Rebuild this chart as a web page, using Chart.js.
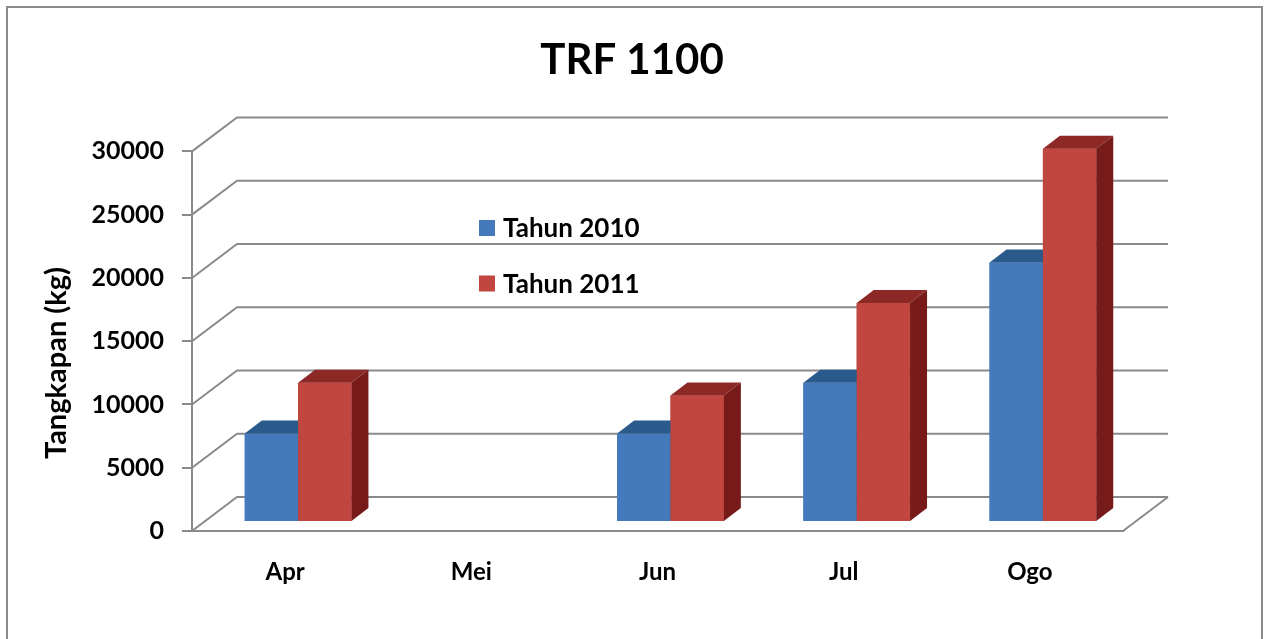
<!DOCTYPE html>
<html>
<head>
<meta charset="utf-8">
<title>TRF 1100</title>
<script src="https://cdn.jsdelivr.net/npm/chart.js@4.4.1/dist/chart.umd.min.js"></script>
<style>
  html, body { margin: 0; padding: 0; background: #fff; overflow: hidden; }
  #wrap { position: relative; width: 1264px; height: 639px; }
  #frame { position: absolute; left: 6px; top: 6px; width: 1257px; height: 700px; border: 2px solid #8c8c8c; box-sizing: border-box; }
  canvas { position: absolute; left: 0; top: 0; }
</style>
</head>
<body>
<div id="wrap">
  <div id="frame"></div>
  <canvas id="trfChart" width="1264" height="639"></canvas>
</div>
<script>
// Data hasil tangkapan TRF 1100 (kg)
const bulan = ['Apr', 'Mei', 'Jun', 'Jul', 'Ogo'];
const tahun2010 = [7000, null, 7000, 11000, 20500];
const tahun2011 = [11000, null, 10000, 17300, 29500];
const nilaiSumbuY = [0, 5000, 10000, 15000, 20000, 25000, 30000];

// Warna muka batang (depan, atas, samping)
const warnaBiru = { depan: '#4479bb', atas: '#2a5a8c', samping: '#1f4670' };
const warnaMerah = { depan: '#c0463f', atas: '#8c2826', samping: '#771a1a' };
const warnaGrid = '#8a8a8a';

// Pergeseran semu 3D (piksel)
const dinding = { dx: 45, dy: -34 };
const geserBatang = { dx: 13, dy: -9 };
const tebalBatang = { dx: 17, dy: -13 };

Chart.defaults.font.family = 'Lato, "Open Sans", sans-serif';
Chart.defaults.color = '#000';

// Gambar dinding belakang, lantai, dan sisi batang
const efek3D = {
    id: 'efek3D',
    beforeDatasetsDraw(chart) {
        const { ctx, chartArea: a, scales: { y } } = chart;
        ctx.save();
        ctx.strokeStyle = warnaGrid;
        ctx.lineWidth = 2;
        y.ticks.forEach(t => {
            const py = y.getPixelForValue(t.value);
            ctx.beginPath();
            ctx.moveTo(a.left, py);
            ctx.lineTo(a.left + dinding.dx, py + dinding.dy);
            ctx.lineTo(a.right + dinding.dx, py + dinding.dy);
            ctx.stroke();
        });
        // tepi kanan lantai
        ctx.beginPath();
        ctx.moveTo(a.right, a.bottom);
        ctx.lineTo(a.right + dinding.dx, a.bottom + dinding.dy);
        ctx.stroke();
        ctx.restore();

        // batang digeser sedikit ke dalam lantai
        ctx.save();
        ctx.translate(geserBatang.dx, geserBatang.dy);
    },
    afterDatasetsDraw(chart) {
        // Chart.js menggambar dataset terakhir lebih dulu; di sini batang digambar
        // ulang berurutan supaya muka depan merah menutupi sisi batang biru.
        const ctx = chart.ctx;
        chart.data.datasets.forEach((ds, di) => {
            const meta = chart.getDatasetMeta(di);
            meta.data.forEach((bar, i) => {
                if (ds.data[i] == null) return;
                bar.draw(ctx);
                const { x, y, base, width } = bar.getProps(['x', 'y', 'base', 'width'], true);
                const kiri = x - width / 2;
                const kanan = x + width / 2;

                ctx.fillStyle = ds.warna3D.atas;
                ctx.beginPath();
                ctx.moveTo(kiri, y);
                ctx.lineTo(kiri + tebalBatang.dx, y + tebalBatang.dy);
                ctx.lineTo(kanan + tebalBatang.dx, y + tebalBatang.dy);
                ctx.lineTo(kanan, y);
                ctx.closePath();
                ctx.fill();

                ctx.fillStyle = ds.warna3D.samping;
                ctx.beginPath();
                ctx.moveTo(kanan, y);
                ctx.lineTo(kanan + tebalBatang.dx, y + tebalBatang.dy);
                ctx.lineTo(kanan + tebalBatang.dx, base + tebalBatang.dy);
                ctx.lineTo(kanan, base);
                ctx.closePath();
                ctx.fill();
            });
        });
        ctx.restore();
    }
};

// Legenda di dalam area plot + judul sumbu Y
const legendaDalam = {
    id: 'legendaDalam',
    afterDraw(chart, args, opts) {
        const ctx = chart.ctx;
        ctx.save();
        ctx.font = 'bold 26px ' + Chart.defaults.font.family;
        ctx.textBaseline = 'middle';
        chart.data.datasets.forEach((ds, i) => {
            const cy = opts.y + i * opts.jarak;
            ctx.fillStyle = ds.backgroundColor;
            ctx.fillRect(opts.x, cy - 8, 16, 16);
            ctx.fillStyle = '#000';
            ctx.fillText(ds.label, opts.x + 24, cy + 1);
        });

        ctx.font = 'bold 29px ' + Chart.defaults.font.family;
        ctx.translate(opts.judulY.x, opts.judulY.y);
        ctx.rotate(-Math.PI / 2);
        ctx.textAlign = 'center';
        ctx.fillText(opts.judulY.teks, 0, 0);
        ctx.restore();
    }
};

const ctx = document.getElementById('trfChart').getContext('2d');
new Chart(ctx, {
    type: 'bar',
    data: {
        labels: bulan,
        datasets: [
            {
                label: 'Tahun 2010',
                data: tahun2010,
                backgroundColor: warnaBiru.depan,
                warna3D: warnaBiru,
                categoryPercentage: 0.573,
                barPercentage: 1.0,
                clip: false
            },
            {
                label: 'Tahun 2011',
                data: tahun2011,
                backgroundColor: warnaMerah.depan,
                warna3D: warnaMerah,
                categoryPercentage: 0.573,
                barPercentage: 1.0,
                clip: false
            }
        ]
    },
    options: {
        responsive: false,
        animation: false,
        layout: { padding: { top: 0, left: 0, right: 0, bottom: 0 } },
        scales: {
            x: {
                grid: { display: false, drawTicks: false },
                border: { display: true, color: warnaGrid, width: 2 },
                ticks: { font: { size: 24, weight: 'bold' }, padding: 27 },
                afterFit: s => { s.height = 108; }
            },
            y: {
                min: nilaiSumbuY[0],
                max: nilaiSumbuY[nilaiSumbuY.length - 1],
                afterBuildTicks: s => { s.ticks = nilaiSumbuY.map(v => ({ value: v })); },
                grid: { drawOnChartArea: false, drawTicks: true, tickLength: 10, color: warnaGrid, lineWidth: 2 },
                border: { display: true, color: warnaGrid, width: 2 },
                ticks: { font: { size: 25, weight: 'bold' }, padding: 18, callback: v => String(v) },
                afterFit: s => { s.width = 192; }
            },
            // sumbu kosong di kanan untuk menyisakan ruang dinding 3D
            kosong: {
                position: 'right',
                display: true,
                grid: { display: false, drawTicks: false },
                border: { display: false },
                ticks: { display: false },
                afterFit: s => { s.width = 141; }
            }
        },
        plugins: {
            title: {
                display: true,
                text: 'TRF 1100',
                font: { size: 42, weight: 'bold' },
                padding: { top: 35, bottom: 66 }
            },
            legend: { display: false },
            tooltip: { enabled: false },
            legendaDalam: {
                x: 479,
                y: 228,
                jarak: 55.5,
                judulY: { teks: 'Tangkapan (kg)', x: 57, y: 363 }
            }
        }
    },
    plugins: [efek3D, legendaDalam]
});
</script>
</body>
</html>
